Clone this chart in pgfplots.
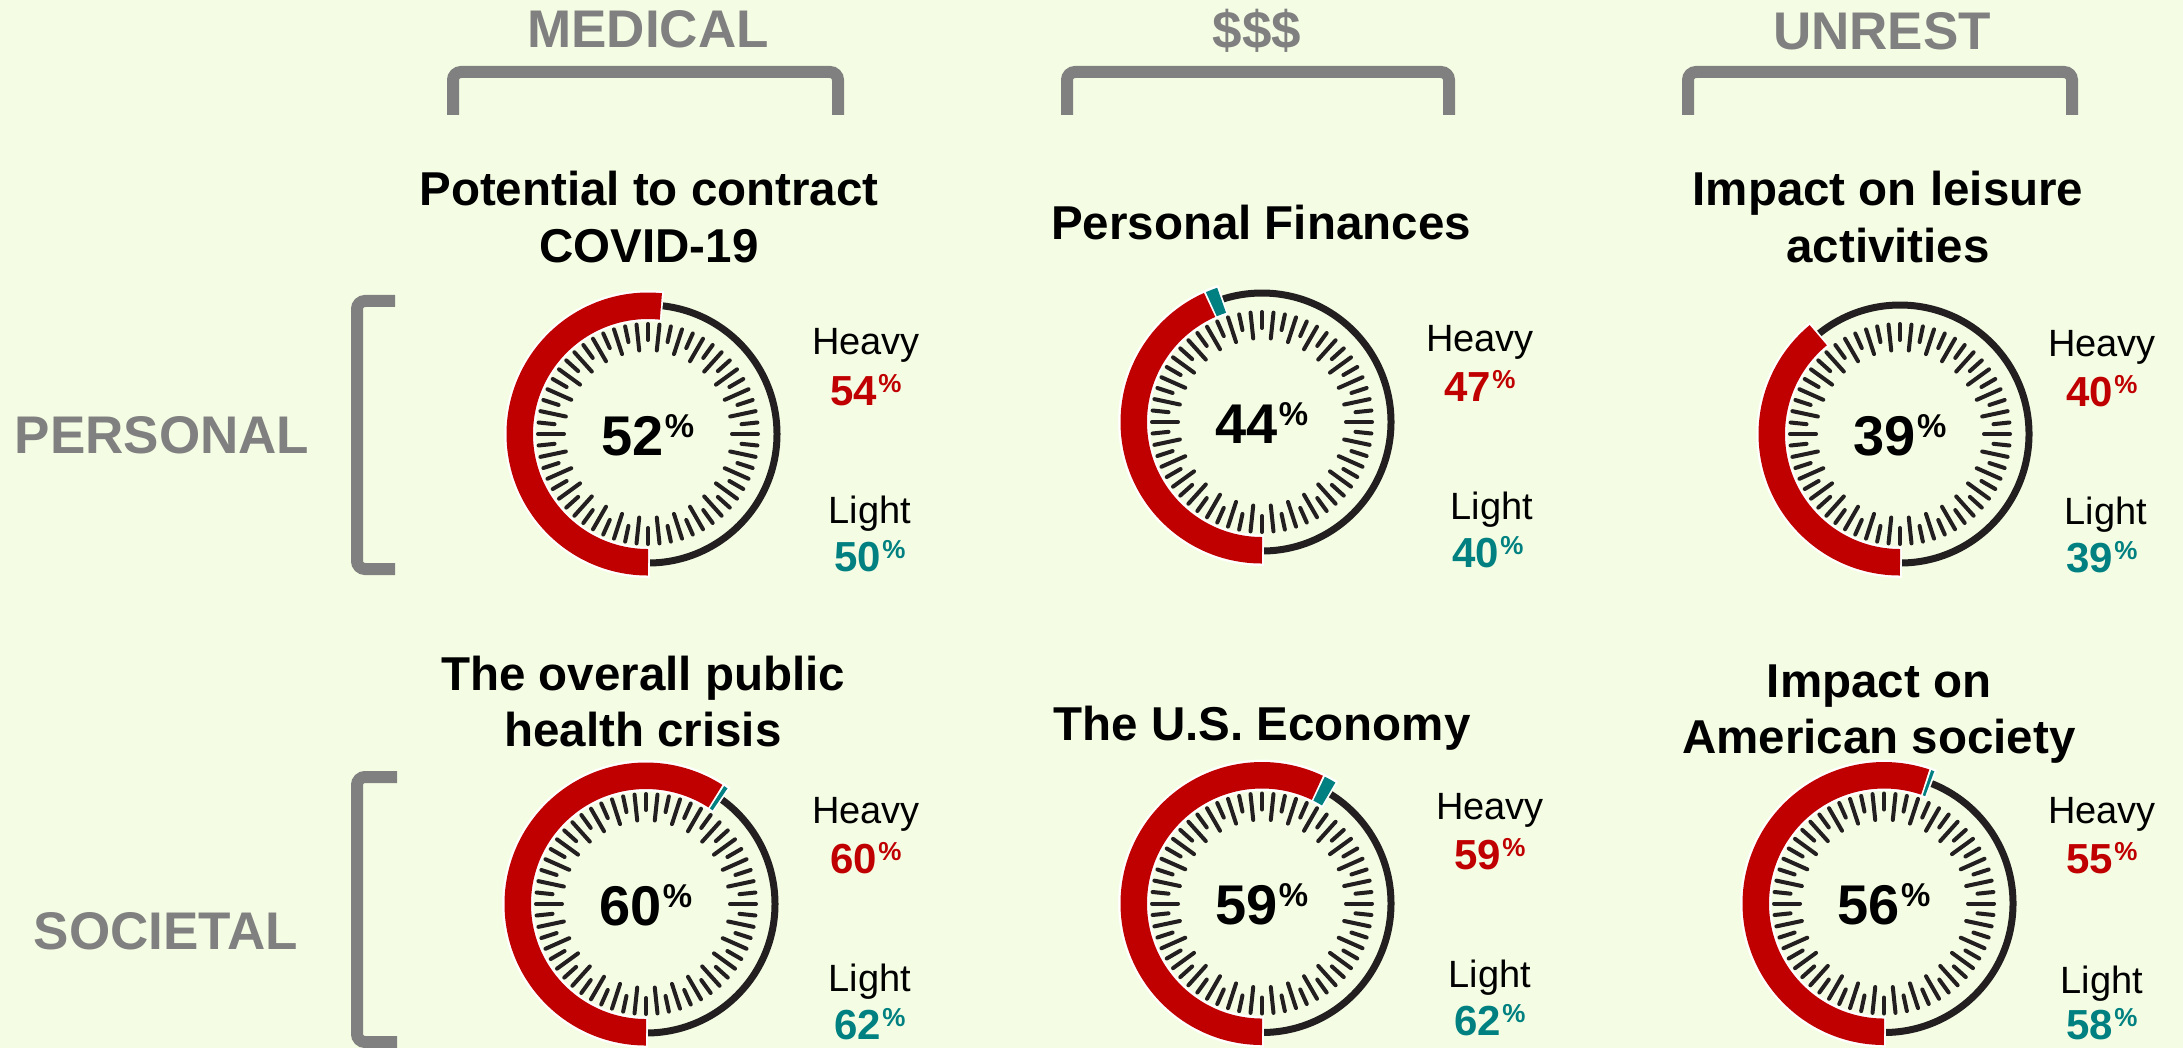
\documentclass[border=0pt]{standalone}
\usepackage{fontspec}
\setmainfont{Liberation Sans}
\usepackage{pgfplots}
\pgfplotsset{compat=1.18}
\definecolor{bg}{RGB}{244,253,228}
\definecolor{hred}{RGB}{192,0,0}
\definecolor{lteal}{RGB}{0,128,128}
\definecolor{ringc}{RGB}{35,31,32}
\definecolor{hdr}{RGB}{128,128,128}

\newcommand\fs[1]{\fontsize{#1}{#1}\selectfont}
\newcommand\bignum[1]{{\fs{56}\bfseries #1}\kern1pt\raisebox{18pt}{\fs{33}\bfseries\%}}
\newcommand\smallnum[2]{\textcolor{#1}{{\fs{42}\bfseries #2}\kern1pt\raisebox{13pt}{\fs{26}\bfseries\%}}}

% gauge: centre x, centre y, red end (%), teal end (%)
\newcommand\gauge[4]{%
  \draw[ringc, line width=7pt] (axis cs:#1,#2) circle[radius=129pt];
  \ifdim #4pt>0pt
    \draw[white, line width=31pt] (axis cs:#1,#2) ++(-89.2:128.25pt) arc[start angle=-89.2, delta angle={-3.6*#4-1.6}, radius=128.25pt];
    \draw[lteal, line width=26.5pt] (axis cs:#1,#2) ++(-90:128.25pt) arc[start angle=-90, delta angle={-3.6*#4}, radius=128.25pt];
  \fi
  \draw[white, line width=31pt] (axis cs:#1,#2) ++(-89.2:128.25pt) arc[start angle=-89.2, delta angle={-3.6*#3-1.6}, radius=128.25pt];
  \draw[hred, line width=26.5pt] (axis cs:#1,#2) ++(-90:128.25pt) arc[start angle=-90, delta angle={-3.6*#3}, radius=128.25pt];
}

\begin{document}
\begin{tikzpicture}
\begin{scope}[x=1pt,y=-1pt]
  \fill[bg] (0,0) rectangle (2183,1048);
\end{scope}

\begin{axis}[at={(0pt,0pt)}, anchor=north west, x=1pt, y=1pt,
  xmin=0, xmax=2183, ymin=0, ymax=1048, y dir=reverse,
  hide axis, scale only axis, clip=false]
  \addplot[draw=none, forget plot] coordinates {(0,0)};
  \gauge{648}{434}{51.6}{0}
  \gauge{1262}{422}{43.3}{44.9}
  \gauge{1900}{434}{39}{0}
  \gauge{646}{904}{59.1}{59.8}
  \gauge{1262}{903.5}{57.1}{58.7}
  \gauge{1884}{903.5}{55.2}{55.8}
\end{axis}

\begin{scope}[x=1pt,y=-1pt]
  % dial ticks
  \foreach \cx/\cy in {648/434, 1262/422, 1900/434, 646/904, 1262/903.5, 1884/903.5}{
    \foreach \a in {0,12,...,348}
      \draw[ringc, line width=4pt, line cap=round] (\cx,\cy) ++(\a:84pt) -- ++(\a:26pt);
    \foreach \a in {6,18,...,354}
      \draw[ringc, line width=4pt, line cap=round] (\cx,\cy) ++(\a:94pt) -- ++(\a:16pt);
  }
  % centre numbers
  \node[anchor=base, inner sep=0] at (648,455) {\bignum{52}};
  \node[anchor=base, inner sep=0] at (1262,443) {\bignum{44}};
  \node[anchor=base, inner sep=0] at (1900,455) {\bignum{39}};
  \node[anchor=base, inner sep=0] at (646,925) {\bignum{60}};
  \node[anchor=base, inner sep=0] at (1262,924.5) {\bignum{59}};
  \node[anchor=base, inner sep=0] at (1884,924.5) {\bignum{56}};

  % headers
  \node[anchor=base, inner sep=0, text=hdr] at (648,48) {\fs{53}\bfseries MEDICAL};
  \node[anchor=base, inner sep=0, text=hdr] at (1257,49) {\fs{53}\bfseries \$\$\$};
  \node[anchor=base, inner sep=0, text=hdr] at (1882,50) {\fs{53}\bfseries UNREST};
  \draw[hdr, line width=12pt, rounded corners=8pt] (453,115) -- (453,72) -- (838,72) -- (838,115);
  \draw[hdr, line width=12pt, rounded corners=8pt] (1067,115) -- (1067,72) -- (1449,72) -- (1449,115);
  \draw[hdr, line width=12pt, rounded corners=8pt] (1688,115) -- (1688,72) -- (2072,72) -- (2072,115);

  % row labels
  \node[anchor=base, inner sep=0, text=hdr] at (162,453) {\fs{53}\bfseries PERSONAL};
  \node[anchor=base, inner sep=0, text=hdr] at (166,949) {\fs{53}\bfseries SOCIETAL};
  \draw[hdr, line width=12pt, rounded corners=8pt] (395,301) -- (357,301) -- (357,569) -- (395,569);
  \draw[hdr, line width=12pt, rounded corners=8pt] (397,777) -- (357,777) -- (357,1042) -- (397,1042);

  % titles
  \node[anchor=base, inner sep=0] at (649,206) {\fs{47.5}\bfseries Potential to contract};
  \node[anchor=base, inner sep=0] at (649,263) {\fs{47.5}\bfseries COVID-19};
  \node[anchor=base, inner sep=0] at (1261,240) {\fs{47.5}\bfseries Personal Finances};
  \node[anchor=base, inner sep=0] at (1888,206) {\fs{47.5}\bfseries Impact on leisure};
  \node[anchor=base, inner sep=0] at (1888,263) {\fs{47.5}\bfseries activities};
  \node[anchor=base, inner sep=0] at (643,690) {\fs{47.5}\bfseries The overall public};
  \node[anchor=base, inner sep=0] at (643,746) {\fs{47.5}\bfseries health crisis};
  \node[anchor=base, inner sep=0] at (1262,740) {\fs{47.5}\bfseries The U.S. Economy};
  \node[anchor=base, inner sep=0] at (1879,697) {\fs{47.5}\bfseries Impact on};
  \node[anchor=base, inner sep=0] at (1879,753) {\fs{47.5}\bfseries American society};

  % heavy / light labels
  \node[anchor=base, inner sep=0] at (866,355) {\fs{38}Heavy};
  \node[anchor=base, inner sep=0] at (866,405) {\smallnum{hred}{54}};
  \node[anchor=base, inner sep=0] at (870,523) {\fs{38}Light};
  \node[anchor=base, inner sep=0] at (870,571) {\smallnum{lteal}{50}};

  \node[anchor=base, inner sep=0] at (1480,351) {\fs{38}Heavy};
  \node[anchor=base, inner sep=0] at (1480,401) {\smallnum{hred}{47}};
  \node[anchor=base, inner sep=0] at (1492,519) {\fs{38}Light};
  \node[anchor=base, inner sep=0] at (1488,567) {\smallnum{lteal}{40}};

  \node[anchor=base, inner sep=0] at (2102,356) {\fs{38}Heavy};
  \node[anchor=base, inner sep=0] at (2102,406) {\smallnum{hred}{40}};
  \node[anchor=base, inner sep=0] at (2106,524) {\fs{38}Light};
  \node[anchor=base, inner sep=0] at (2102,572) {\smallnum{lteal}{39}};

  \node[anchor=base, inner sep=0] at (866,823) {\fs{38}Heavy};
  \node[anchor=base, inner sep=0] at (866,873) {\smallnum{hred}{60}};
  \node[anchor=base, inner sep=0] at (870,991) {\fs{38}Light};
  \node[anchor=base, inner sep=0] at (870,1039) {\smallnum{lteal}{62}};

  \node[anchor=base, inner sep=0] at (1490,819) {\fs{38}Heavy};
  \node[anchor=base, inner sep=0] at (1490,869) {\smallnum{hred}{59}};
  \node[anchor=base, inner sep=0] at (1490,987) {\fs{38}Light};
  \node[anchor=base, inner sep=0] at (1490,1035) {\smallnum{lteal}{62}};

  \node[anchor=base, inner sep=0] at (2102,823) {\fs{38}Heavy};
  \node[anchor=base, inner sep=0] at (2102,873) {\smallnum{hred}{55}};
  \node[anchor=base, inner sep=0] at (2102,993) {\fs{38}Light};
  \node[anchor=base, inner sep=0] at (2102,1039) {\smallnum{lteal}{58}};

  \pgfresetboundingbox
  \path (0,0) rectangle (2183,1048);
\end{scope}
\end{tikzpicture}
\end{document}
